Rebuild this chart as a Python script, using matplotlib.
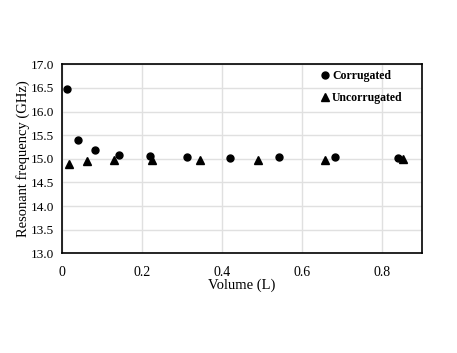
import matplotlib
matplotlib.use("Agg")
import matplotlib.pyplot as plt

# corrugated
vol_corr = [0.012, 0.039, 0.083, 0.143, 0.220, 0.312, 0.420, 0.543, 0.683, 0.840]
freq_corr = [16.48, 15.40, 15.18, 15.09, 15.06, 15.04, 15.02, 15.03, 15.03, 15.02]
# uncorrugated
vol_unc = [0.018, 0.063, 0.131, 0.226, 0.345, 0.489, 0.658, 0.853]
freq_unc = [14.90, 14.95, 14.97, 14.97, 14.98, 14.97, 14.98, 14.99]

xticks = [0, 0.2, 0.4, 0.6, 0.8]
xticklabels = ["0", "0.2", "0.4", "0.6", "0.8"]
yticks = [13.0, 13.5, 14.0, 14.5, 15.0, 15.5, 16.0, 16.5, 17.0]

plt.rcParams["font.family"] = ["Liberation Serif", "DejaVu Serif"]

fig = plt.figure(figsize=(4.57, 3.53), dpi=100)
ax = fig.add_axes([0.1357, 0.2824, 0.7877, 0.5354])

ax.plot(vol_corr, freq_corr, "o", color="black", markersize=5, label="Corrugated", zorder=3)
ax.plot(vol_unc, freq_unc, "^", color="black", markersize=5.5, label="Uncorrugated", zorder=3)

ax.set_xlim(0, 0.9)
ax.set_ylim(13, 17)
ax.set_xticks(xticks)
ax.set_xticklabels(xticklabels)
ax.set_yticks(yticks)
ax.set_yticklabels(["%.1f" % v for v in yticks])
ax.tick_params(axis="y", length=0, labelsize=9.5, pad=6)
ax.tick_params(axis="x", length=0, labelsize=10, pad=9)
ax.grid(True, color="#e0e0e0", linewidth=1)
ax.set_axisbelow(True)
for s in ax.spines.values():
    s.set_linewidth(1.2)
    s.set_color("black")

ax.set_xlabel("Volume (L)", fontsize=10.5, labelpad=0)
ax.set_ylabel("Resonant frequency (GHz)", fontsize=10.5, labelpad=0)

leg = ax.legend(loc="upper right", frameon=False, prop={"weight": "bold", "size": 8.5},
                handlelength=0.6, handletextpad=0.3, labelspacing=0.85,
                bbox_to_anchor=(0.976, 1.025))

fig.savefig("out.png", dpi=100)
